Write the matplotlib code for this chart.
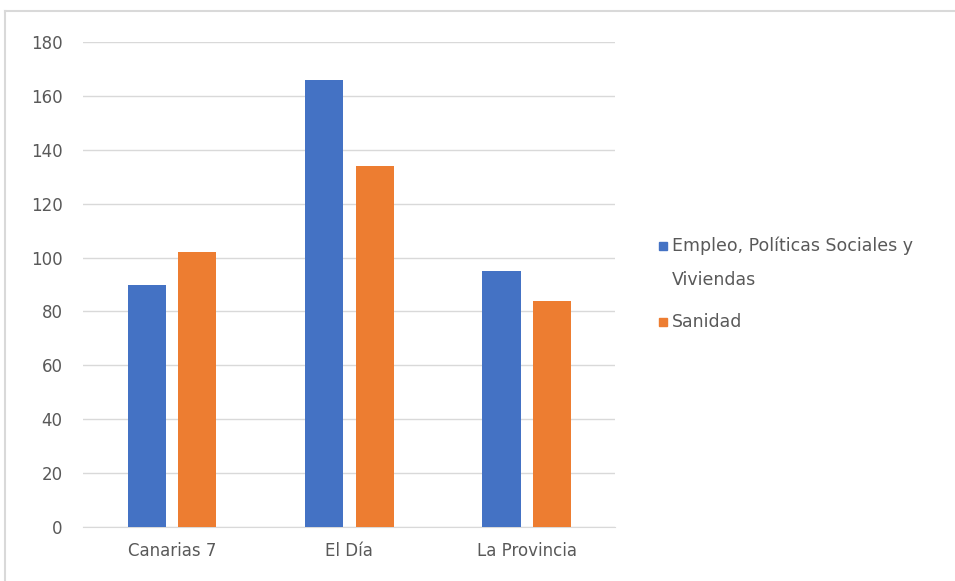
import matplotlib.pyplot as plt
import numpy as np
from matplotlib.lines import Line2D
from matplotlib.patches import Rectangle

# Datos del gráfico
periodicos = ['Canarias 7', 'El Día', 'La Provincia']
empleo = [90, 166, 95]
sanidad = [102, 134, 84]
series = ['Empleo, Políticas Sociales y\nViviendas', 'Sanidad']
ticks_y = [0, 20, 40, 60, 80, 100, 120, 140, 160, 180]

azul = '#4472C4'
naranja = '#ED7D31'
gris_texto = '#595959'
gris_linea = '#D9D9D9'

W, H = 955, 581


def dibujar():
    plt.rcParams['font.family'] = ['DejaVu Sans']
    fig = plt.figure(figsize=(W / 100, H / 100), dpi=100)
    ax = fig.add_axes([0.0874, 0.0929, 0.557, 0.8348])

    x = np.arange(len(periodicos))
    ancho = 0.215
    sep = 0.035
    ax.bar(x - ancho / 2 - sep, empleo, ancho, color=azul, zorder=3)
    ax.bar(x + ancho / 2 + sep, sanidad, ancho, color=naranja, zorder=3)

    ax.set_xlim(-0.5, 2.5)
    ax.set_ylim(0, 180)
    ax.set_yticks(ticks_y)
    ax.set_xticks(x)
    ax.set_xticklabels(periodicos)
    ax.grid(axis='y', color=gris_linea, linewidth=1, zorder=0)
    for lado in ['top', 'right', 'left']:
        ax.spines[lado].set_visible(False)
    ax.spines['bottom'].set_color(gris_linea)
    ax.tick_params(axis='both', length=0, colors=gris_texto, labelsize=12)
    ax.tick_params(axis='y', pad=15)
    ax.tick_params(axis='x', pad=11)

    # leyenda manual: el cuadro se alinea con la primera línea del texto
    y_entrada = [246, 322]
    for serie, color, yp in zip(series, [azul, naranja], y_entrada):
        fig.patches.append(Rectangle((659 / W, 1 - (yp + 4) / H), 8 / W, 8 / H,
                                     transform=fig.transFigure, color=color))
        for i, linea in enumerate(serie.split('\n')):
            fig.text(672 / W, 1 - (yp + 34 * i) / H, linea, fontsize=12.5,
                     color=gris_texto, va='center', ha='left')

    # marco exterior (solo arriba e izquierda visibles)
    fig.add_artist(Line2D([0.005, 1.0], [0.981, 0.981], color=gris_linea, linewidth=1.5))
    fig.add_artist(Line2D([0.005, 0.005], [0.0, 0.981], color=gris_linea, linewidth=1.5))

    fig.savefig('out.png', dpi=100)


if __name__ == "__main__":
    dibujar()
